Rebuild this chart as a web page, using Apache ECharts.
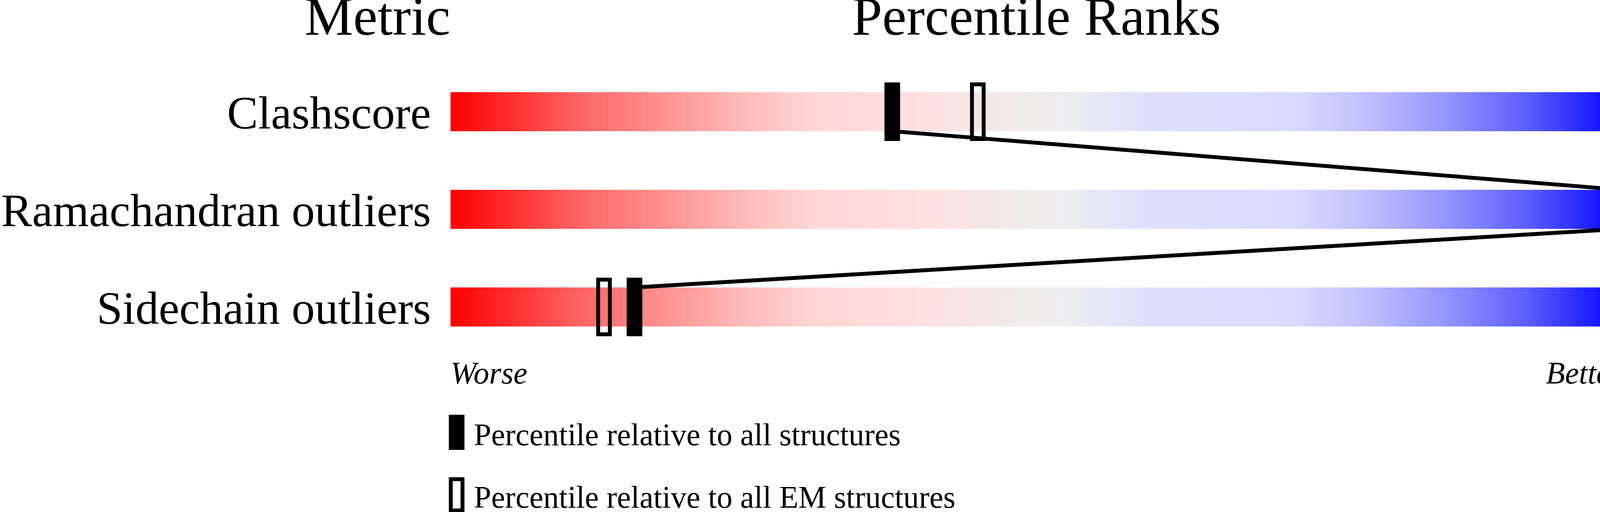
<!DOCTYPE html>
<html>
<head>
<meta charset="utf-8">
<script src="https://cdn.jsdelivr.net/npm/echarts@6/dist/echarts.min.js"></script>
<style>
  html, body { margin: 0; padding: 0; background: #ffffff; }
  #chart { width: 4485px; height: 1311px; }
</style>
</head>
<body>
<div id="chart"></div>
<script>
// ---- data ----
const categories = ['Clashscore', 'Ramachandran outliers', 'Sidechain outliers'];
const valueLabels = ['8', '0', '8.0%'];
const pctAll = [37.7, 100, 15.7];      // percentile relative to all structures
const pctEM = [45.0, null, 13.1];      // percentile relative to all EM structures
const scaleMax = [100, 100, 100];      // full slider extent
const headerLabels = ['Metric', 'Percentile Ranks', 'Value'];
const endLabels = ['Worse', 'Better'];
const legendNames = ['Percentile relative to all structures', 'Percentile relative to all EM structures'];

const FONT = "'Liberation Serif', 'Times New Roman', serif";

const gradient = {
  type: 'linear', x: 0, y: 0, x2: 1, y2: 0,
  colorStops: [
    { offset: 0.00, color: '#ff0000' },
    { offset: 0.08, color: '#ff4848' },
    { offset: 0.12, color: '#ff6c6c' },
    { offset: 0.20, color: '#ff9c9c' },
    { offset: 0.25, color: '#ffbaba' },
    { offset: 0.31, color: '#ffd6d6' },
    { offset: 0.40, color: '#ffe0e0' },
    { offset: 0.48, color: '#f1eaea' },
    { offset: 0.52, color: '#eeeeee' },
    { offset: 0.60, color: '#dedefe' },
    { offset: 0.72, color: '#dadaff' },
    { offset: 0.78, color: '#c0c0ff' },
    { offset: 0.85, color: '#9494ff' },
    { offset: 0.92, color: '#5c5cff' },
    { offset: 1.00, color: '#0000ff' }
  ]
};

const chart = echarts.init(document.getElementById('chart'), null, { renderer: 'canvas' });

const BAR_H = 100, MARK_W = 40, MARK_H = 150, BORDER = 10;

const axisLabelStyle = {
  color: '#000', fontFamily: FONT, fontSize: 119, margin: 50,
  verticalAlign: 'top', lineHeight: 24
};

const legendGraphics = [];
legendNames.forEach(function (name, i) {
  const top = 1062 + i * 160;
  legendGraphics.push({
    type: 'rect',
    shape: { x: 1149 + BORDER / 2, y: top + BORDER / 2, width: MARK_W - BORDER, height: 90 - BORDER },
    style: { fill: i === 0 ? '#000' : '#fff', stroke: '#000', lineWidth: BORDER }
  });
  legendGraphics.push({
    type: 'text', x: 1213, y: top + 57,
    style: { text: name, font: '80px ' + FONT, fill: '#000', textAlign: 'left', textVerticalAlign: 'middle' }
  });
});

const option = {
  animation: false,
  backgroundColor: '#ffffff',
  grid: { left: 1153, right: 332, top: 161, height: 750, containLabel: false },
  xAxis: { type: 'value', min: 0, max: 100, show: false },
  yAxis: [
    {
      type: 'category', data: categories, inverse: true,
      axisLine: { show: false }, axisTick: { show: false }, splitLine: { show: false },
      axisLabel: axisLabelStyle
    },
    {
      type: 'category', data: valueLabels, inverse: true, position: 'right',
      axisLine: { show: false }, axisTick: { show: false }, splitLine: { show: false },
      axisLabel: axisLabelStyle
    }
  ],
  graphic: [
    { type: 'text', x: 1153, y: 52, style: { text: headerLabels[0], font: '140px ' + FONT, fill: '#000', textAlign: 'right', textVerticalAlign: 'middle' } },
    { type: 'text', x: 2653, y: 52, style: { text: headerLabels[1], font: '140px ' + FONT, fill: '#000', textAlign: 'center', textVerticalAlign: 'middle' } },
    { type: 'text', x: 4485, y: 52, style: { text: headerLabels[2], font: '140px ' + FONT, fill: '#000', textAlign: 'right', textVerticalAlign: 'middle' } },
    { type: 'text', x: 1153, y: 961, style: { text: endLabels[0], font: 'italic 80px ' + FONT, fill: '#000', textAlign: 'left', textVerticalAlign: 'middle' } },
    { type: 'text', x: 4153, y: 961, style: { text: endLabels[1], font: 'italic 80px ' + FONT, fill: '#000', textAlign: 'right', textVerticalAlign: 'middle' } }
  ].concat(legendGraphics),
  series: [
    {
      type: 'bar', name: 'scale', data: scaleMax, barWidth: BAR_H, silent: true, z: 1,
      itemStyle: { color: gradient }
    },
    {
      type: 'custom', name: 'links', silent: true, z: 2,
      data: pctAll.map((p, i) => [p, i]),
      renderItem: function (params, api) {
        const i = params.dataIndex;
        if (i === 0) return null;
        const a = api.coord([pctAll[i - 1], i - 1]);
        const b = api.coord([pctAll[i], i]);
        return {
          type: 'polyline',
          shape: { points: [[a[0], a[1] - BAR_H / 2], [a[0], a[1] + BAR_H / 2], [b[0], b[1] - BAR_H / 2], [b[0], b[1] + BAR_H / 2]] },
          style: { stroke: '#000', lineWidth: BORDER, fill: null }
        };
      }
    },
    {
      type: 'custom', name: legendNames[1], silent: true, z: 3,
      data: pctEM.map((p, i) => (p == null ? [null, i] : [p, i])),
      renderItem: function (params, api) {
        const v = api.value(0);
        if (v == null || isNaN(v)) return null;
        const c = api.coord([v, api.value(1)]);
        return {
          type: 'rect',
          shape: { x: c[0] - (MARK_W - BORDER) / 2, y: c[1] - (MARK_H - BORDER) / 2, width: MARK_W - BORDER, height: MARK_H - BORDER },
          style: { fill: null, stroke: '#000', lineWidth: BORDER }
        };
      }
    },
    {
      type: 'custom', name: legendNames[0], silent: true, z: 4,
      data: pctAll.map((p, i) => [p, i]),
      renderItem: function (params, api) {
        const c = api.coord([api.value(0), api.value(1)]);
        return {
          type: 'rect',
          shape: { x: c[0] - MARK_W / 2, y: c[1] - MARK_H / 2, width: MARK_W, height: MARK_H },
          style: { fill: '#000' }
        };
      }
    }
  ]
};

chart.setOption(option);
</script>
</body>
</html>
